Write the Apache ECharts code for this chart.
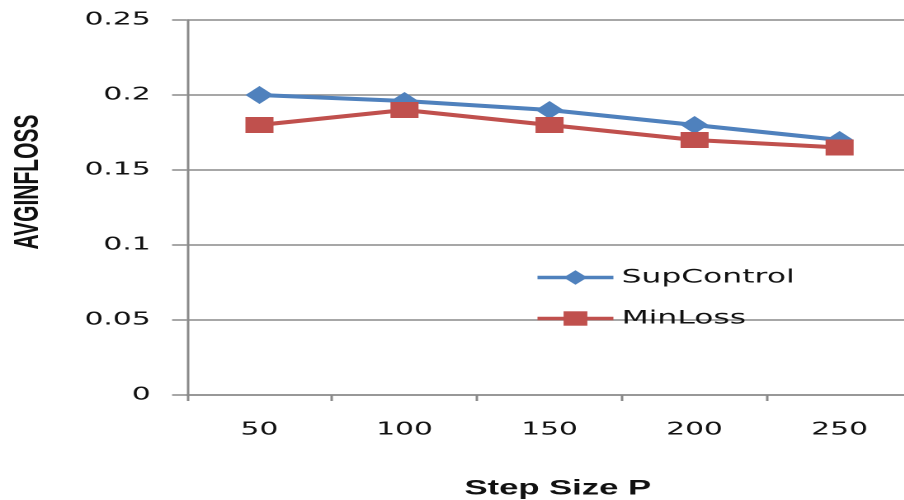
<!DOCTYPE html>
<html>
<head>
<meta charset="utf-8">
<script src="https://cdn.jsdelivr.net/npm/echarts@6/dist/echarts.min.js"></script>
<style>
  html, body { margin: 0; padding: 0; background: #fff; overflow: hidden; }
  #wrap { width: 904px; height: 500px; overflow: hidden; }
  /* the chart is laid out narrow and stretched sideways for its wide look */
  #chart { width: 548px; height: 500px; transform: scaleX(1.65); transform-origin: 0 0; }
</style>
</head>
<body>
<div id="wrap"><div id="chart"></div></div>
<script>
// Step sizes on the category axis
const stepSizes = ['50', '100', '150', '200', '250'];
// AVGINFLOSS per step size
const supControl = [0.2, 0.196, 0.19, 0.18, 0.17];
const minLoss = [0.18, 0.19, 0.18, 0.17, 0.165];
// Value axis range
const yMin = 0;
const yMax = 0.25;
const yStep = 0.05;

const gridGray = '#8a8a8a';
const labelFont = 'DejaVu Sans';

const chart = echarts.init(document.getElementById('chart'), null, { renderer: 'canvas', devicePixelRatio: 2 });

chart.setOption({
  animation: false,
  backgroundColor: '#ffffff',
  // plot runs past the right edge of the page
  grid: { left: 113.3, width: 439.5, top: 20, height: 375, containLabel: false, outerBoundsMode: 'none' },
  legend: {
    orient: 'vertical',
    left: 319,
    top: 263,
    itemWidth: 46,
    itemHeight: 18,
    itemGap: 22,
    lineStyle: { width: 3.5 },
    textStyle: { fontFamily: labelFont, fontSize: 19, color: '#111' },
    data: ['SupControl', 'MinLoss']
  },
  xAxis: {
    type: 'category',
    data: stepSizes,
    boundaryGap: true,
    name: 'Step Size P',
    nameLocation: 'middle',
    nameGap: 83,
    nameTextStyle: { fontFamily: 'Liberation Sans', fontWeight: 'bold', fontSize: 21, color: '#111', padding: [0, 0, 0, 10] },
    axisLine: { lineStyle: { color: gridGray, width: 1.5 } },
    axisTick: { show: true, alignWithLabel: false, length: 6, lineStyle: { color: gridGray, width: 1.5 } },
    axisLabel: { fontFamily: labelFont, fontSize: 18, color: '#111', margin: 26 },
    splitLine: { show: false }
  },
  yAxis: {
    type: 'value',
    min: yMin,
    max: yMax,
    interval: yStep,
    axisLine: { show: true, lineStyle: { color: gridGray, width: 1.5 } },
    axisTick: { show: true, length: 9, lineStyle: { color: gridGray, width: 1.5 } },
    axisLabel: { fontFamily: labelFont, fontSize: 18, color: '#111', margin: 22 },
    splitLine: { show: true, lineStyle: { color: gridGray, width: 1.5 } }
  },
  graphic: [
    {
      type: 'text',
      x: 17,
      y: 182,
      rotation: Math.PI / 2,
      style: {
        text: 'AVGINFLOSS',
        fontFamily: 'Liberation Sans',
        fontWeight: 'bold',
        fontSize: 21,
        fill: '#111',
        align: 'center',
        verticalAlign: 'middle'
      }
    }
  ],
  series: [
    {
      name: 'SupControl',
      type: 'line',
      data: supControl,
      symbol: 'diamond',
      symbolSize: [17, 18],
      lineStyle: { color: '#4f81bd', width: 4 },
      itemStyle: { color: '#4f81bd' },
      z: 2
    },
    {
      name: 'MinLoss',
      type: 'line',
      data: minLoss,
      symbol: 'rect',
      symbolSize: [17, 16],
      lineStyle: { color: '#c0504d', width: 4 },
      itemStyle: { color: '#c0504d' },
      z: 3
    }
  ]
});
</script>
</body>
</html>
